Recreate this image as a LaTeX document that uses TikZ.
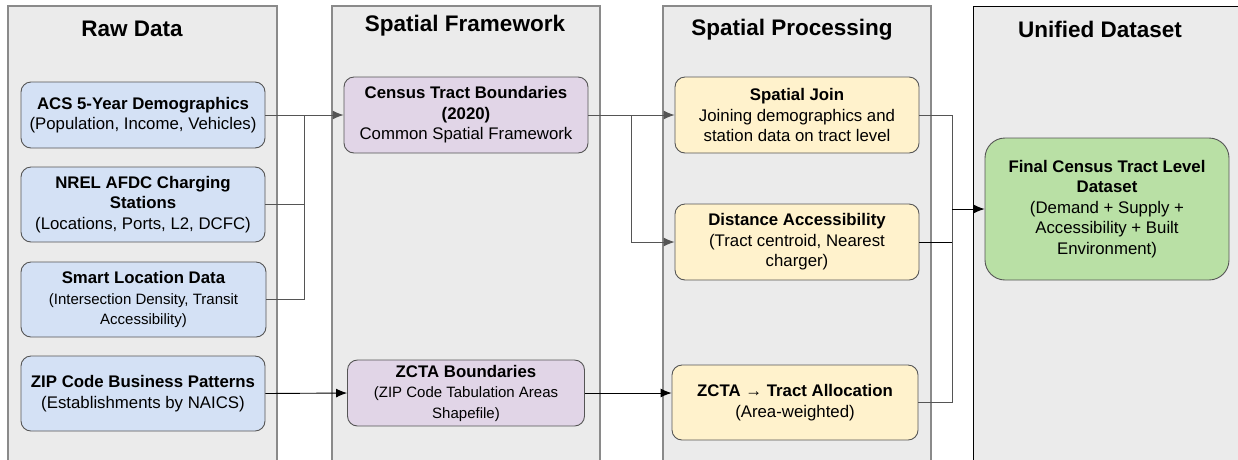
\documentclass[tikz,border=0pt]{standalone}
\usepackage{fontspec}
\setmainfont{Liberation Sans}
\usetikzlibrary{arrows.meta,calc}

\definecolor{lanefill}{HTML}{EBEBEB}
\definecolor{laneline}{HTML}{8A8A8A}
\definecolor{boxline}{HTML}{555555}
\definecolor{rawfill}{HTML}{D4E1F5}
\definecolor{frameworkfill}{HTML}{E1D5E7}
\definecolor{procfill}{HTML}{FFF2CC}
\definecolor{finalfill}{HTML}{B9E0A5}
\definecolor{wire}{HTML}{555555}

\newcommand{\smalltext}{\fontsize{15}{17.5}\selectfont}

\tikzset{
  lane/.style={draw=laneline, line width=1.1pt, fill=lanefill},
  lanetitle/.style={font=\fontsize{22.5}{26}\selectfont\bfseries, anchor=center},
  card/.style={draw=boxline, line width=0.9pt, rounded corners=10pt, align=center,
    inner sep=2pt, font=\fontsize{16.8}{20.5}\selectfont},
  rawcard/.style={card, fill=rawfill},
  fwcard/.style={card, fill=frameworkfill},
  proccard/.style={card, fill=procfill},
  finalcard/.style={card, fill=finalfill, rounded corners=20pt},
  wireline/.style={draw=wire, line width=0.9pt},
  arr/.style={wireline, -{Latex[length=11pt,width=9pt]}}
}

\begin{document}
\begin{tikzpicture}[x=1pt, y=-1pt]
  \clip (0,0) rectangle (1238,459);
  \fill[white] (0,0) rectangle (1238,459);

  % swimlanes
  \draw[lane] (8,6) rectangle (277,470);
  \draw[lane] (332,6) rectangle (600,470);
  \draw[lane] (663,6) rectangle (931,470);
  \draw[lane, draw=black, line width=0.9pt] (973,6) rectangle (1250,470);

  \node[lanetitle] (t1) at (132,29) {Raw Data};
  \node[lanetitle] (t2) at (465,26) {Spatial Framework};
  \node[lanetitle] (t3) at (792,30) {Spatial Processing};
  \node[lanetitle] (t4) at (1100,29) {Unified Dataset};

  % raw data sources
  \node[rawcard, minimum width=244pt, minimum height=66pt] (acs) at (143,115)
    {\textbf{ACS 5-Year Demographics}\\(Population, Income, Vehicles)};
  \node[rawcard, minimum width=244pt, minimum height=75pt] (nrel) at (143,204.5)
    {\textbf{NREL AFDC Charging}\\\textbf{Stations}\\(Locations, Ports, L2, DCFC)};
  \node[rawcard, minimum width=245pt, minimum height=75pt] (smart) at (143.5,299.5)
    {\textbf{Smart Location Data}\\{\smalltext (Intersection Density, Transit}\\{\smalltext Accessibility)}};
  \node[rawcard, minimum width=244pt, minimum height=75pt] (zip) at (143,393.5)
    {\textbf{ZIP Code Business Patterns}\\(Establishments by NAICS)};

  % spatial framework
  \node[fwcard, minimum width=244pt, minimum height=76pt] (ctb) at (466,115)
    {\textbf{Census Tract Boundaries}\\\textbf{(2020)}\\Common Spatial Framework};
  \node[fwcard, minimum width=237pt, minimum height=66pt] (zctab) at (466,393)
    {\textbf{ZCTA Boundaries}\\{\smalltext (ZIP Code Tabulation Areas}\\{\smalltext Shapefile)}};

  % spatial processing
  \node[proccard, minimum width=244pt, minimum height=76pt] (sj) at (797,115)
    {\textbf{Spatial Join}\\Joining demographics and\\station data on tract level};
  \node[proccard, minimum width=244pt, minimum height=76pt] (dist) at (797,242)
    {\textbf{Distance Accessibility}\\(Tract centroid, Nearest\\charger)};
  \node[proccard, minimum width=246pt, minimum height=75pt] (zctat) at (795,402.5)
    {\textbf{ZCTA → Tract Allocation}\\(Area-weighted)};

  % unified output
  \node[finalcard, minimum width=244pt, minimum height=142pt] (final) at (1107,209)
    {\textbf{Final Census Tract Level}\\\textbf{Dataset}\\(Demand + Supply +\\Accessibility + Built\\Environment)};

  % junction points of the merging connectors
  \coordinate (j1) at (304,115);
  \coordinate (j2) at (631,115);
  \coordinate (j3) at (952,209);

  % raw data into the framework
  \draw[arr] (acs.east) -- (ctb.west);
  \draw[wireline] (nrel.east) -| (j1);
  \draw[wireline] (smart.east) -| (j1);
  \draw[arr, draw=black] (zip.east) -- (zctab.west);

  % framework into processing
  \draw[arr] (ctb.east) -- (sj.west);
  \draw[arr] (j2) |- (dist.west);
  \draw[arr, draw=black] (zctab.east) -- (zctab.east -| zctat.west);

  % processing into the unified dataset
  \draw[wireline] (sj.east) -| (j3);
  \draw[wireline, draw=black] (dist.east) -| (j3);
  \draw[wireline] (zctat.east) -| (j3);
  \draw[arr, draw=black] (j3) -- (final.west);
\end{tikzpicture}
\end{document}
